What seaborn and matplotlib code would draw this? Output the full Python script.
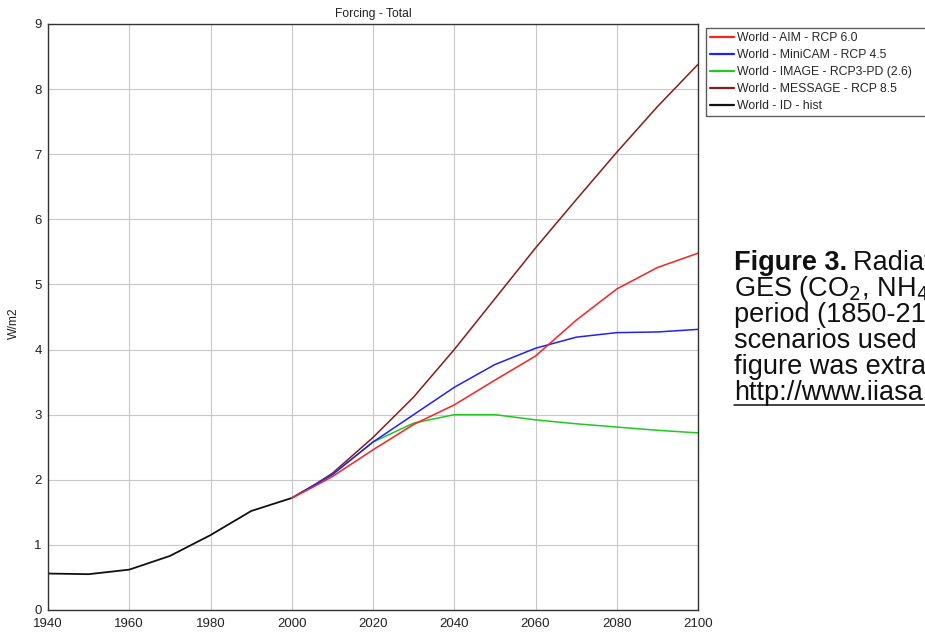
import matplotlib
matplotlib.use("Agg")
import matplotlib.pyplot as plt
import seaborn as sns
import pandas as pd
from matplotlib.lines import Line2D

# Historical forcing
hist_years = [1940, 1950, 1960, 1970, 1980, 1990, 2000]
hist_vals = [0.56, 0.55, 0.62, 0.83, 1.15, 1.52, 1.72]

# Scenario forcing (W/m2)
scen_years = [2000, 2005, 2010, 2020, 2030, 2040, 2050, 2060, 2070, 2080, 2090, 2100]
aim_60 = [1.72, 1.88, 2.05, 2.46, 2.85, 3.15, 3.53, 3.90, 4.45, 4.93, 5.26, 5.48]
minicam_45 = [1.72, 1.90, 2.08, 2.58, 3.00, 3.42, 3.77, 4.02, 4.19, 4.26, 4.27, 4.31]
image_26 = [1.72, 1.90, 2.08, 2.58, 2.87, 3.00, 3.00, 2.92, 2.86, 2.81, 2.76, 2.72]
message_85 = [1.72, 1.90, 2.10, 2.65, 3.27, 4.00, 4.78, 5.56, 6.30, 7.03, 7.73, 8.38]

labels = [
    "World - AIM - RCP 6.0",
    "World - MiniCAM - RCP 4.5",
    "World - IMAGE - RCP3-PD (2.6)",
    "World - MESSAGE - RCP 8.5",
    "World - ID - hist",
]
colors = ["#ff2020", "#2020ff", "#20c820", "#8b1a1a", "#111111"]

series = {
    labels[0]: (scen_years, aim_60),
    labels[1]: (scen_years, minicam_45),
    labels[2]: (scen_years, image_26),
    labels[3]: (scen_years, message_85),
    labels[4]: (hist_years, hist_vals),
}

rows = []
for name, (yrs, vals) in series.items():
    for x, v in zip(yrs, vals):
        rows.append({"year": x, "value": v, "series": name})
df = pd.DataFrame(rows)

sns.set_style("white")
plt.rcParams["font.family"] = ["Liberation Sans", "DejaVu Sans"]

fig = plt.figure(figsize=(9.25, 6.35), dpi=100)
ax = fig.add_axes([48 / 925, 25 / 635, 650 / 925, 586 / 635])

palette = dict(zip(labels, colors))
draw_order = [labels[4], labels[3], labels[2], labels[1], labels[0]]
for name in draw_order:
    lw = 1.3 if name == labels[4] else 1.1
    sns.lineplot(data=df[df["series"] == name], x="year", y="value",
                 color=palette[name], linewidth=lw, ax=ax, legend=False)

ax.set_xlim(1940, 2100)
ax.set_ylim(0, 9)
ax.set_xticks(range(1940, 2101, 20))
ax.set_yticks(range(0, 10))
ax.grid(True, color="#c8c8c8", linewidth=0.8)
ax.set_axisbelow(True)
for s in ax.spines.values():
    s.set_color("#333333")
    s.set_linewidth(1.0)
ax.tick_params(axis="both", direction="out", length=3, width=0.8,
               color="#333333", labelsize=9.5, labelcolor="#222222")
ax.tick_params(axis="x", pad=3)
ax.tick_params(axis="y", pad=1.5)
ax.set_xlabel("")
ax.set_ylabel("W/m2", fontsize=8.7, color="#222222")
ax.yaxis.set_label_coords(-28 / 650, 0.49)
ax.set_title("Forcing - Total", fontsize=8.7, color="#222222", pad=5)

# Legend box runs on past the right edge of the figure
handles = [Line2D([0], [0], color=c, linewidth=1.6) for c in colors]
leg = fig.legend(handles, labels, loc="upper left",
                 bbox_to_anchor=(706 / 925, 0, 240 / 925, 1 - 28 / 635),
                 mode="expand",
                 fontsize=8.8, frameon=True, fancybox=False,
                 handlelength=1.9, handletextpad=0.25, labelspacing=0.4,
                 borderpad=0.35, borderaxespad=0)
leg.get_frame().set_edgecolor("#333333")
leg.get_frame().set_linewidth(1.0)

# Caption beside the chart
cap_x = 734 / 925
cap_size = 19.5
lines = [
    "GES (CO$_2$, NH$_4$, N$_2$O)",
    "period (1850-2100)",
    "scenarios used",
    "figure was extracted",
]
y0 = 1 - 263 / 635
step = 26 / 635
t = fig.text(cap_x, y0, "Figure 3.", fontsize=cap_size, fontweight="bold",
             va="center", ha="left", color="#111111")
fig.canvas.draw()
bb = t.get_window_extent()
fig.text(bb.x1 / fig.bbox.width + 0.006, y0, "Radiative forcing",
         fontsize=cap_size, va="center", ha="left", color="#111111")
for i, s in enumerate(lines, start=1):
    fig.text(cap_x, y0 - i * step, s, fontsize=cap_size, va="center",
             ha="left", color="#111111")
url = fig.text(cap_x, y0 - 5 * step, "http://www.iiasa.ac.at",
               fontsize=cap_size, va="center", ha="left", color="#111111")
fig.canvas.draw()
ub = url.get_window_extent()
fig.add_artist(Line2D([ub.x0 / fig.bbox.width, ub.x1 / fig.bbox.width],
                      [(ub.y0 + 1) / fig.bbox.height] * 2,
                      color="#111111", linewidth=1.1))

fig.savefig("out.png", dpi=100)
